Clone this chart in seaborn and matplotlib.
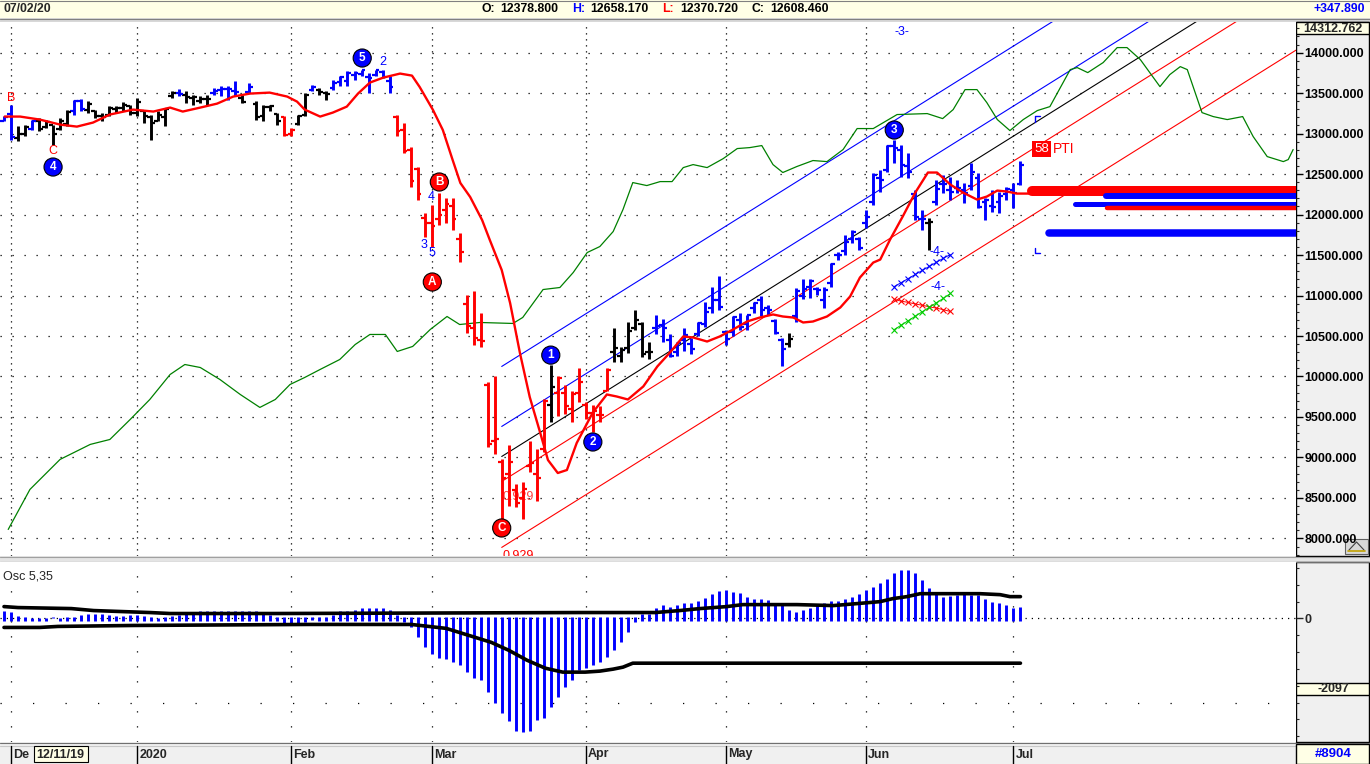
import numpy as np
import matplotlib
matplotlib.use("Agg")
import matplotlib.pyplot as plt
import matplotlib.transforms as mtransforms
from matplotlib.patches import Rectangle
from matplotlib.ticker import MultipleLocator
import seaborn as sns

sns.set_style("white")
plt.rcParams["font.family"] = ["Liberation Sans", "DejaVu Sans"]

# daily bars, 11/29/19 .. 07/02/20 (bar index 0..145)
opens = [13160, 13240, 12950, 13000, 13060, 13150, 13080, 13100, 13060, 13120,
         13280, 13400, 13290, 13280, 13220, 13230, 13300, 13320, 13340, 13260,
         13280, 13200, 13160, 13200, 13470, 13500, 13480, 13440, 13400, 13430,
         13500, 13540, 13550, 13530, 13440, 13510, 13370, 13220, 13330, 13240,
         13200, 13000, 13120, 13230, 13540, 13540, 13500, 13560, 13640, 13650,
         13720, 13740, 13700, 13720, 13760, 13650, 13200, 13050, 12800, 12560,
         11960, 11900, 11950, 12050, 12100, 11700, 10900, 10600, 10450, 9900,
         9200, 8950, 8800, 8600, 8500, 8900, 8800, 9100, 9650, 9800,
         9800, 9600, 9800, 9650, 9550, 9520, 9820, 10300, 10250, 10350,
         10600, 10650, 10300, 10600, 10640, 10450, 10300, 10450, 10400, 10520,
         10650, 10850, 10950, 10550, 10550, 10700, 10650, 10850, 10950, 10850,
         10680, 10450, 10400, 10750, 11000, 11100, 11080, 10950, 11150, 11500,
         11550, 11700, 11700, 11900, 12150, 12450, 12550, 12850, 12800, 12600,
         12250, 11950, 11900, 12150, 12380, 12300, 12330, 12300, 12350, 12450,
         12150, 12100, 12150, 12250, 12300, 12378.8]
highs = [13214, 13358, 13090, 13111, 13173, 13193, 13173, 13111, 13193, 13296,
         13419, 13428, 13399, 13296, 13255, 13337, 13337, 13387, 13358, 13440,
         13296, 13234, 13275, 13317, 13522, 13551, 13522, 13481, 13461, 13481,
         13563, 13584, 13584, 13646, 13481, 13625, 13399, 13358, 13358, 13255,
         13214, 13070, 13234, 13502, 13605, 13563, 13522, 13666, 13716, 13769,
         13769, 13790, 13749, 13790, 13790, 13708, 13234, 13136, 12840, 12593,
         12025, 12124, 12272, 12210, 12210, 11778, 11012, 11050, 10790, 9926,
         10000, 8976, 9160, 8667, 8692, 9198, 9100, 9716, 10148, 10000,
         9901, 9815, 10111, 9691, 9654, 9630, 10111, 10605, 10370, 10667,
         10827, 10679, 10432, 10765, 10704, 10519, 10432, 10605, 10481, 10667,
         10914, 11111, 11235, 10580, 10741, 10790, 10765, 10926, 10988, 10889,
         10704, 10481, 10543, 11099, 11198, 11198, 11111, 11111, 11407, 11543,
         11753, 11815, 11728, 12062, 12519, 12556, 12864, 12926, 12864, 12765,
         12309, 12062, 11963, 12432, 12494, 12469, 12432, 12395, 12642, 12519,
         12210, 12309, 12284, 12346, 12395, 12658.17]
lows = [13152, 12926, 12905, 12967, 13049, 13029, 13070, 12864, 13049, 13090,
        13234, 13275, 13255, 13193, 13152, 13214, 13255, 13275, 13234, 13214,
        13131, 12926, 13152, 13090, 13440, 13461, 13378, 13358, 13378, 13358,
        13481, 13461, 13419, 13461, 13378, 13502, 13173, 13152, 13275, 13111,
        12967, 12967, 13111, 13214, 13522, 13481, 13419, 13543, 13584, 13584,
        13666, 13716, 13502, 13708, 13687, 13502, 12967, 12765, 12346, 12185,
        11728, 11605, 11877, 11901, 11815, 11420, 10543, 10395, 10370, 9124,
        9037, 8235, 8395, 8383, 8235, 8815, 8457, 9062, 9432, 9506,
        9531, 9432, 9679, 9469, 9309, 9444, 9815, 10185, 10173, 10296,
        10580, 10235, 10210, 10519, 10420, 10235, 10247, 10309, 10272, 10494,
        10617, 10790, 10827, 10395, 10494, 10580, 10580, 10790, 10741, 10765,
        10519, 10124, 10370, 10667, 10951, 10975, 11012, 10852, 11111, 11444,
        11506, 11654, 11568, 11840, 12124, 12284, 12531, 12642, 12469, 12457,
        11938, 11815, 11568, 12124, 12272, 12185, 12272, 12148, 12309, 12087,
        11938, 12037, 12025, 12185, 12087, 12370.72]
closes = [13200, 12960, 13000, 13080, 13150, 13060, 13140, 13000, 13150, 13270,
          13400, 13300, 13370, 13220, 13200, 13320, 13310, 13350, 13260, 13385,
          13220, 13127, 13227, 13300, 13495, 13483, 13452, 13456, 13432, 13430,
          13526, 13549, 13555, 13515, 13388, 13577, 13205, 13324, 13345, 13158,
          12982, 13046, 13220, 13479, 13575, 13514, 13494, 13627, 13700, 13745,
          13744, 13784, 13681, 13789, 13700, 13579, 13035, 12790, 12420, 12250,
          11890, 11857, 12000, 12128, 11944, 11542, 10625, 10475, 10439, 9161,
          9232, 8742, 8939, 8442, 8610, 8929, 8742, 9701, 9874, 9980,
          9633, 9780, 9936, 9544, 9571, 9525, 10075, 10356, 10333, 10565,
          10697, 10280, 10301, 10626, 10600, 10249, 10415, 10514, 10336, 10660,
          10796, 10943, 10862, 10467, 10729, 10607, 10760, 10904, 10824, 10820,
          10542, 10337, 10465, 11058, 11075, 11180, 11065, 11074, 11391, 11504,
          11657, 11781, 11587, 11971, 12487, 12431, 12848, 12820, 12614, 12530,
          11970, 11949, 11911, 12315, 12382, 12281, 12331, 12262, 12523, 12093,
          12178, 12089, 12232, 12311, 12260, 12608.46]
# trend colour of every bar: b = up, k = neutral, r = down
bar_trend = ("bbkkbkkkkk" "bbkkkkkkkkkkkkk" "bkkkkbbbbkbkkkk" "rrkkbkkbbbbbbbbb"
             "rrrrrrrrrrrrrrrrrrrrrrkrrrrrrrr" "kkkkkk" "bbbbbbbbbbbbbbbbbbb" "k"
             "bbbbbbbbbbbbbbbbbbb" "k" "bbbbbbbbbbbbb")

# red moving average (bar index, price)
ma_x = [0.1, 2.3, 5.1, 8.0, 10.4, 12.7, 15.1, 18.4, 21.3, 23.7, 25.5, 28.0, 30.4, 32.7,
        35.1, 37.9, 40.4, 41.8, 42.9, 45.1, 46.9, 48.9, 50.5, 52.2, 54.1, 56.5, 58.2,
        59.3, 61.2, 62.6, 64.0, 65.1, 66.5, 68.2, 69.3, 71.0, 72.2, 73.6, 75.0, 76.5,
        77.6, 79.0, 80.3, 81.7,
        84.0, 86.0, 87.4, 89.0, 91.2, 93.2, 95.0, 96.9, 98.3, 100.3, 102.1, 104.0,
        106.0, 107.8, 109.7, 111.1, 112.6, 114.0, 115.4, 117.4, 119.3, 120.7, 122.1,
        124.0, 125.0, 126.4, 128.2, 130.0, 131.8, 133.1, 135.0, 136.8, 138.8, 140.2,
        141.7, 143.1, 144.5, 146.6]
ma_y = [13210, 13210, 13173, 13111, 13086, 13136, 13235, 13296, 13272, 13321, 13272,
        13321, 13370, 13457, 13494, 13506, 13457, 13395, 13296, 13210, 13259, 13333,
        13494, 13630, 13691, 13741, 13716,
        13575, 13291, 13044, 12674, 12390, 12217, 11933, 11686, 11315, 10907, 10290,
        9746, 9302, 8968, 8808, 8845, 9179,
        9556, 9778, 9753, 9716, 9877,
        10124, 10296, 10494, 10482, 10432, 10494, 10580, 10679, 10728, 10766, 10741,
        10728, 10667, 10679, 10741, 10852, 10988, 11222, 11407, 11444, 11691, 11975,
        12272, 12519, 12519, 12370, 12272, 12185, 12222, 12296, 12284, 12259, 12259]

# green displaced line (bar index, price)
green_x = [0.6, 3.7, 8.0, 12.3, 15.1, 18.0, 20.8, 23.7, 25.8, 28.0, 30.8, 33.7, 36.5,
           38.7, 40.8, 42.9, 45.1, 47.9, 50.1, 52.2, 54.4, 56.1, 58.3, 60.8, 63.2, 65.0,
           67.9, 72.6, 74.0, 76.9, 79.3, 81.2, 83.2, 85.0, 86.9, 88.3, 89.7, 91.7, 93.6,
           95.3, 96.9, 98.3, 100.3, 102.6, 104.6, 106.4, 108.1, 109.7, 111.1, 113.1,
           115.4, 117.4, 119.7, 121.7, 124.0, 127.4, 131.7, 133.9, 135.4, 137.1, 138.8,
           140.2, 141.7, 143.5, 145.4, 147.4, 149.2, 152.1, 153.1, 154.6, 156.8, 158.8,
           160.2, 162.1, 164.9, 166.3, 167.8, 168.8, 170.9, 172.5, 174.5, 176.7, 178.2,
           180.2, 182.5, 183.2, 183.9]
green_y = [8111, 8605, 8976, 9161, 9222, 9469, 9716, 10025, 10148, 10111, 9963, 9778,
           9618, 9716, 9901, 9988, 10087, 10210, 10395, 10519, 10519, 10309, 10371,
           10580, 10741, 10642, 10667, 10655, 10729, 11074, 11099, 11284, 11531, 11605,
           11790, 12062, 12395, 12358, 12407, 12407, 12580, 12617, 12580, 12691, 12815,
           12827, 12852, 12617, 12519, 12593, 12667, 12654, 12803, 13062, 13062, 13235,
           13247, 13185, 13296, 13543, 13543, 13383, 13173, 13037, 13173, 13284, 13333,
           13790, 13815, 13753, 13877, 14062, 14062, 13914, 13580, 13728, 13827, 13790,
           13259, 13210, 13173, 13210, 12963, 12716, 12654, 12679, 12803]

# Osc 5,35 per bar
osc = [236, 187, 88, 59, 20, 10, 20, 0, 20, 39,
       59, 118, 138, 138, 138, 118, 88, 88, 118, 118,
       88, 39, 20, 39, 88, 118, 157, 187, 216, 216,
       216, 216, 236, 236, 236, 236, 216, 187, 118, 39,
       -138, -158, -158, -108, -59, 39, 59, 118, 216, 236,
       256, 315, 315, 315, 315, 256, 118, -108, -256, -551,
       -847, -1044, -1162, -1191, -1290, -1388, -1585, -1782, -1831, -2176,
       -2500, -2796, -3061, -3357, -3386, -3357, -3012, -2963, -2618, -2323,
       -2028, -1831, -1536, -1477, -1388, -1299, -1152, -945, -709, -413,
       -118, 148, 148, 325, 413, 354, 413, 472, 472, 532,
       620, 738, 827, 856, 797, 768, 650, 591, 591, 561,
       472, 443, 266, 207, 266, 325, 413, 472, 532, 532,
       591, 650, 738, 856, 945, 1063, 1181, 1358, 1447, 1447,
       1358, 1152, 915, 768, 650, 679, 709, 768, 709, 709,
       591, 502, 472, 413, 325, 354]
up_x = [0, 2, 9.6, 12.8, 16.7, 20.8, 23.7, 38.7, 82.2, 92.9, 96.4, 99.3, 103.1, 105.4,
        113.1, 118.3, 121.7, 125.0, 126.8, 128.8, 130.7, 139.2, 142.1, 143.5, 145]
up_y = [354, 325, 295, 236, 207, 177, 148, 148, 177, 177, 236, 295, 354, 413, 413, 384,
        443, 502, 591, 650, 738, 738, 709, 650, 650]
lo_x = [0, 5.1, 7.7, 18.5, 43.4, 58.1, 60.6, 63.1, 66.3, 69.5, 72.0, 74.6, 77.2, 79.7,
        82.9, 85.0, 86.9, 88.3, 89.7, 145]
lo_y = [-266, -266, -236, -207, -177, -177, -236, -295, -502, -709, -945, -1240, -1477,
        -1595, -1595, -1565, -1506, -1447, -1329, -1329]

month_pos = [1, 19, 41, 61, 83, 103, 123, 144]
month_lab = ["De", "2020", "Feb", "Mar", "Apr", "May", "Jun", "Jul"]

# channel lines drawn from the March low
chan_start = 71.0
chan_slope = 54.2
chan_base = [10124, 9383, 9012, 8704, 7889]
chan_cols = ["#0000ff", "#0000ff", "#000000", "#ff0000", "#ff0000"]

# wave labels
circ_x = [7.0, 51.1, 78.0, 84.0, 127.0, 62.1, 61.1, 71.0]
circ_y = [12587, 13933, 10264, 9191, 13044, 12402, 11167, 8129]
circ_txt = ["4", "5", "1", "2", "3", "B", "A", "C"]
circ_col = ["#0000ff"] * 5 + ["#ff0000"] * 3
lab_x = [1.0, 7.0, 54.0, 60.9, 59.9, 61.1, 128.1, 133.1, 133.3]
lab_y = [13439, 12785, 13884, 12217, 11624, 11525, 14254, 11537, 11105]
lab_txt = ["B", "C", "2", "4", "3", "5", "-3-", "-4-", "-4-"]
lab_col = ["#ff0000", "#ff0000"] + ["#0000ff"] * 7

# projection bands on the right
proj_start = [146.6, 157.2, 152.8, 157.4, 149.1]
proj_price = [12291, 12229, 12136, 12081, 11778]
proj_col = ["#ff0000", "#0000ff", "#0000ff", "#ff0000", "#0000ff"]
proj_w = [7.2, 4.3, 3.6, 3.2, 5.4]

xl_i = [127, 128, 129, 130, 131, 132, 133, 134, 135]
xl_blue = [11111, 11160, 11210, 11260, 11310, 11360, 11410, 11460, 11506]
xl_red = [10951, 10930, 10915, 10895, 10880, 10860, 10845, 10825, 10803]
xl_green = [10580, 10635, 10690, 10745, 10800, 10855, 10910, 10965, 11025]

W, H = 1370, 764
X0, X1 = -4 / 7.01, 1292 / 7.01
fig = plt.figure(figsize=(W / 100, H / 100), dpi=100, facecolor="white")

bg = fig.add_axes([0, 0, 1, 1])
bg.set_xlim(0, W)
bg.set_ylim(H, 0)
bg.axis("off")
bg.set_autoscale_on(False)


def px_axes(x0, y0, x1, y1):
    return fig.add_axes([x0 / W, 1 - y1 / H, (x1 - x0) / W, (y1 - y0) / H])


ax = px_axes(0, 22, 1296, 556)
ax2 = px_axes(0, 562, 1296, 742)

cream = "#ffffe6"
panel = "#f0f0f0"
# window chrome
bg.add_patch(Rectangle((0, 0), W, 18, fc=cream, ec="none"))
bg.add_patch(Rectangle((0, 18), W, 4, fc="#d8d8d8", ec="none"))
bg.plot([0, W], [18.5, 18.5], color="#808080", lw=0.8)
bg.plot([0, W], [0.5, 0.5], color="#808080", lw=0.8)
bg.add_patch(Rectangle((0, 556), W, 6, fc="#e4e4e4", ec="none"))
bg.plot([0, W], [556.5, 556.5], color="#a0a0a0", lw=0.8)
bg.plot([0, W], [561.5, 561.5], color="#707070", lw=0.8)
bg.add_patch(Rectangle((0, 742), W, 22, fc=panel, ec="none"))
bg.plot([0, W], [742.5, 742.5], color="#707070", lw=0.8)
bg.plot([0, W], [745.5, 745.5], color="#c8c8c8", lw=0.8)
bg.add_patch(Rectangle((1296, 22), 73, 534, fc=panel, ec="black", lw=1))
bg.add_patch(Rectangle((1296, 562), 73, 180, fc=panel, ec="black", lw=1))
bg.add_patch(Rectangle((1296, 22), 73, 12, fc=cream, ec="black", lw=1, zorder=3))
bg.text(1333, 28.5, "14312.762", ha="center", va="center", fontsize=9, fontweight="bold", zorder=4)
bg.add_patch(Rectangle((1296, 683), 73, 12, fc=cream, ec="black", lw=1, zorder=3))
bg.text(1333, 689.5, "-2097", ha="center", va="center", fontsize=9, fontweight="bold", zorder=4)
bg.add_patch(Rectangle((1296, 744), 73, 20, fc=cream, ec="black", lw=1, zorder=3))
bg.text(1333, 754, "#8904", ha="center", va="center", fontsize=9.5, fontweight="bold",
        color="#0000ff", zorder=4)
# small scale icon in the corner of the price scale
bg.add_patch(Rectangle((1345, 539), 23, 15, fc="#d8d8d8", ec="#606060", lw=0.8, zorder=5))
bg.plot([1349, 1356.5, 1364], [550, 542, 550], color="#404040", lw=0.8, zorder=6)
bg.plot([1348, 1365], [550.5, 550.5], color="#c0a000", lw=1.2, zorder=6)

# header line
bg.text(4, 9, "07/02/20", va="center", fontsize=8.8, fontweight="bold")
hdr = [(482, "O:", "black"), (500, "12378.800", "black"), (572, "H:", "#0000ff"),
       (590, "12658.170", "black"), (662, "L:", "#ff0000"), (680, "12370.720", "black"),
       (752, "C:", "black"), (770, "12608.460", "black")]
for hx, ht, hc in hdr:
    bg.text(hx, 9, ht, va="center", fontsize=8.8, fontweight="bold", color=hc)
bg.text(1365, 9, "+347.890", ha="right", va="center", fontsize=8.8, fontweight="bold",
        color="#0000ff")

# ---------------- price panel ----------------
ax.set_facecolor("white")
ax.set_xlim(X0, X1)
ax.set_ylim(7783, 14378)
for s in ax.spines.values():
    s.set_visible(False)
ax.set_xticks([])
ax.yaxis.tick_right()
ticks = np.arange(8000, 14001, 500)
ax.set_yticks(ticks)
ax.set_yticklabels([f"{t:.3f}" for t in ticks], fontsize=9, fontweight="bold")
ax.yaxis.set_minor_locator(MultipleLocator(100))
ax.tick_params(axis="y", which="major", right=True, left=False, length=5, width=1, pad=1,
               direction="out", colors="black")
ax.tick_params(axis="y", which="minor", right=True, left=False, length=2, width=0.8,
               direction="out")

for t in ticks:
    ax.axhline(t, color="black", lw=0.9, ls=(0, (1, 8.6)), zorder=1)
for m in month_pos:
    ax.axvline(m, color="black", lw=0.9, ls=(0, (1, 3.8)), zorder=1)

for base, c in zip(chan_base, chan_cols):
    ax.plot([chan_start, X1], [base, base + chan_slope * (X1 - chan_start)], color=c, lw=0.8, zorder=2)

sns.lineplot(x=green_x, y=green_y, ax=ax, color="#008000", lw=0.9, sort=False, zorder=3)
ax.text(73.3, 8512, "0.929", color="#ff4040", fontsize=9, ha="center", va="center", zorder=4)
ax.text(73.3, 7783, "0.929", color="#ff0000", fontsize=9, ha="center", va="center", zorder=4,
        clip_on=True)

idx = np.arange(len(closes))
col_map = {"b": "#0000ff", "k": "#000000", "r": "#ff0000"}
bar_cols = [col_map[c] for c in bar_trend]
ax.vlines(idx, lows, highs, colors=bar_cols, lw=2.1, zorder=5)
ax.hlines(opens, idx - 0.55, idx, colors=bar_cols, lw=1.6, zorder=5)
ax.hlines(closes, idx, idx + 0.55, colors=bar_cols, lw=1.6, zorder=5)

sns.lineplot(x=ma_x, y=ma_y, ax=ax, color="#ff0000", lw=1.7, sort=False, zorder=6)

for ps, pp, pc, pw in zip(proj_start, proj_price, proj_col, proj_w):
    ax.plot([ps, X1 + 2], [pp, pp], color=pc, lw=pw, solid_capstyle="round", zorder=6)

ax.plot(xl_i, xl_blue, color="#0000ff", lw=0.7, marker="x", ms=4, mew=0.8, zorder=6)
ax.plot(xl_i, xl_red, color="#ff0000", lw=0.7, marker="x", ms=4, mew=0.8, zorder=6)
ax.plot(xl_i, xl_green, color="#00cc00", lw=0.7, marker="x", ms=4, mew=0.8, zorder=6)

ax.plot([147.1, 147.1, 147.8], [13142, 13217, 13217], color="#0000ff", lw=1, zorder=6)
ax.plot([147.1, 147.1, 147.8], [11587, 11525, 11525], color="#0000ff", lw=1, zorder=6)
ax.text(148.0, 12810, "58", color="white", fontsize=9.5, ha="center", va="center", zorder=9,
        bbox=dict(fc="#ff0000", ec="none", pad=1.2))
ax.text(149.6, 12810, "PTI", color="#ff0000", fontsize=10, ha="left", va="center", zorder=9)

ax.scatter(circ_x, circ_y, s=170, c=circ_col, edgecolors="black", linewidths=0.8, zorder=8)
for cx, cy, ct in zip(circ_x, circ_y, circ_txt):
    ax.text(cx, cy, ct, color="white", fontsize=8.5, fontweight="bold", ha="center", va="center", zorder=9)
for lx, ly, lt, lc in zip(lab_x, lab_y, lab_txt, lab_col):
    ax.text(lx, ly, lt, color=lc, fontsize=9, ha="center", va="center", zorder=9)

# ---------------- oscillator panel ----------------
ax2.set_facecolor("white")
ax2.set_xlim(X0, X1)
ax2.set_ylim(-3673, 1680)
for s in ax2.spines.values():
    s.set_visible(False)
ax2.set_xticks([])
ax2.yaxis.tick_right()
ax2.set_yticks([0])
ax2.set_yticklabels(["0"], fontsize=9, fontweight="bold")
ax2.yaxis.set_minor_locator(MultipleLocator(500))
ax2.tick_params(axis="y", which="major", right=True, left=False, length=5, width=1, pad=1)
ax2.tick_params(axis="y", which="minor", right=True, left=False, length=2, width=0.8)

for m in month_pos:
    ax2.axvline(m, color="black", lw=0.9, ls=(0, (1, 11)), zorder=1)
ax2.axhline(-2500, color="black", lw=0.9, ls=(0, (1, 25)), zorder=1)
ax2.axhline(0, color="black", lw=0.9, ls=(0, (1, 4)), zorder=1)

osc = np.array(osc)
base = np.where(osc > 0, -60, 30)
ax2.vlines(idx, base, osc, colors="#0000ff", lw=2.1, zorder=3)
sns.lineplot(x=up_x, y=up_y, ax=ax2, color="black", lw=2.6, sort=False, zorder=4)
sns.lineplot(x=lo_x, y=lo_y, ax=ax2, color="black", lw=2.6, sort=False, zorder=4)
ax2.text(0.002, 0.92, "Osc 5,35", transform=ax2.transAxes, fontsize=9, va="center", ha="left")

# date strip
trans = mtransforms.blended_transform_factory(ax2.transData, bg.transData)
for m, lab in zip(month_pos, month_lab):
    bg.plot([m, m], [746, 764], transform=trans, color="black", lw=1)
    bg.text(m + 0.3, 754.5, lab, transform=trans, fontsize=9, fontweight="bold", va="center", ha="left")
bg.add_patch(Rectangle((34, 746), 54, 16, fc=cream, ec="black", lw=0.8, zorder=3))
bg.text(36, 754.5, "12/11/19", fontsize=9, fontweight="bold", va="center", ha="left", zorder=4)

fig.savefig("out.png", dpi=100)
